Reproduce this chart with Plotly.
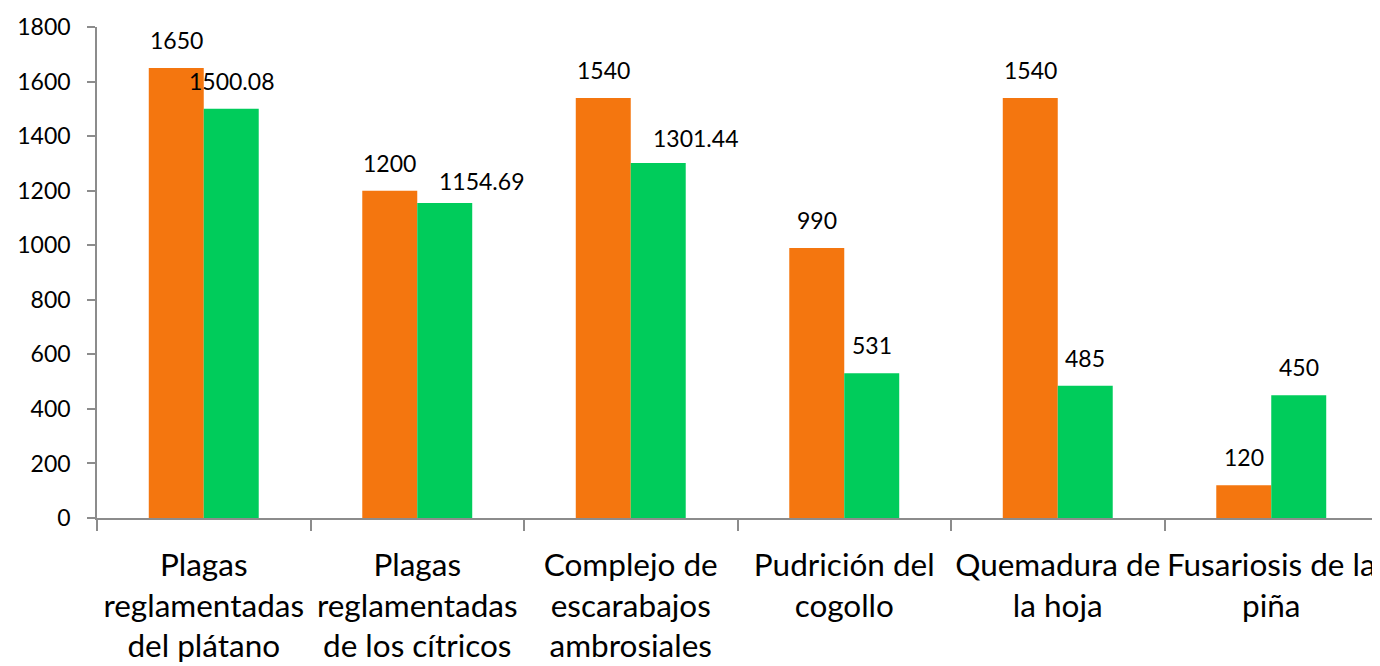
import plotly.graph_objects as go

categories = [
    "Plagas<br>reglamentadas<br>del plátano",
    "Plagas<br>reglamentadas<br>de los cítricos",
    "Complejo de<br>escarabajos<br>ambrosiales",
    "Pudrición del<br>cogollo",
    "Quemadura de<br>la hoja",
    "Fusariosis de la<br>piña",
]
series_a = [1650, 1200, 1540, 990, 1540, 120]
series_b = [1500.08, 1154.69, 1301.44, 531, 485, 450]
labels_a = ["1650", "1200", "1540", "990", "1540", "120"]
labels_b = ["1500.08", "1154.69", "1301.44", "531", "485", "450"]
y_ticks = [0, 200, 400, 600, 800, 1000, 1200, 1400, 1600, 1800]

ORANGE = "#F4760F"
GREEN = "#00CC5B"
AXIS = "#8C8C8C"
FONT = "Lato, 'Open Sans', sans-serif"

# label nudges (style only): (dx, dy) in pixels for the green-series labels
NUDGE_B = [(0, 0), (37, -6), (37, -3), (0, 0), (0, 0), (0, 0)]

fig = go.Figure()
fig.add_trace(go.Bar(x=categories, y=series_a, marker=dict(color=ORANGE, line=dict(width=0)), name="A"))
fig.add_trace(go.Bar(x=categories, y=series_b, marker=dict(color=GREEN, line=dict(width=0)), name="B"))

BAR_PX = 27.5
annotations = []
for c, v, t in zip(categories, series_a, labels_a):
    annotations.append(dict(x=c, y=v, text=t, xref="x", yref="y", showarrow=False,
                            yanchor="bottom", xanchor="center", xshift=-BAR_PX, yshift=12,
                            font=dict(family=FONT, size=23, color="#000")))
for (c, v, t), (dx, dy) in zip(zip(categories, series_b, labels_b), NUDGE_B):
    annotations.append(dict(x=c, y=v, text=t, xref="x", yref="y", showarrow=False,
                            yanchor="bottom", xanchor="center", xshift=BAR_PX + dx, yshift=12 + dy,
                            font=dict(family=FONT, size=23, color="#000")))

fig.update_layout(
    width=1372, height=658,
    margin=dict(l=89, r=2, t=19, b=148),
    paper_bgcolor="white", plot_bgcolor="white",
    barmode="group", bargap=0.485, bargroupgap=0,
    showlegend=False,
    annotations=annotations,
    font=dict(family=FONT, color="#000"),
)
fig.update_xaxes(
    showline=True, linecolor=AXIS, linewidth=1.5,
    ticks="outside", tickson="boundaries", ticklen=11, tickcolor=AXIS, tickwidth=1.5,
    tickfont=dict(family=FONT, size=31.5, color="#000"),
    showgrid=False, tickangle=0, automargin=False, ticklabelstandoff=18,
)
fig.update_yaxes(
    range=[0, 1800], tickvals=y_ticks, ticktext=[str(v) for v in y_ticks],
    showline=True, linecolor=AXIS, linewidth=1.5,
    ticks="outside", ticklen=8, tickcolor=AXIS, tickwidth=1.5,
    tickfont=dict(family=FONT, size=23, color="#000"),
    showgrid=False, zeroline=False, automargin=False, ticklabelstandoff=12,
)

fig.write_html("out.html")
